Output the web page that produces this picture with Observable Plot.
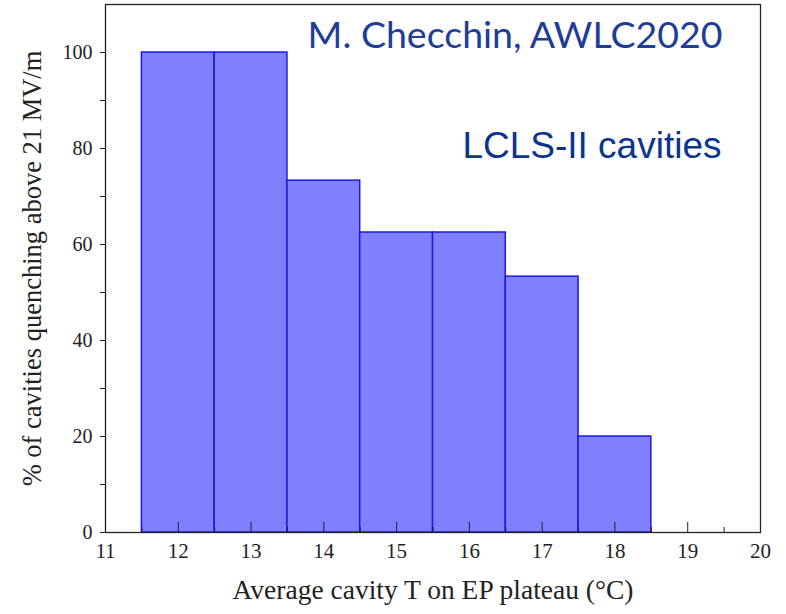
<!DOCTYPE html>
<html><head><meta charset="utf-8">
<script src="https://cdn.jsdelivr.net/npm/d3@7"></script>
<script src="https://cdn.jsdelivr.net/npm/@observablehq/plot@0.6"></script>
<style>body{margin:0;background:#fff;} #chart svg{display:block;}</style>
</head><body><div id="chart"></div>
<script>
const temps = [12, 13, 14, 15, 16, 17, 18];
const percents = [100, 100, 73.3, 62.5, 62.5, 53.3, 20];
const xTicks = [11, 12, 13, 14, 15, 16, 17, 18, 19, 20];
const xMinorTicks = [11.5, 12.5, 13.5, 14.5, 15.5, 16.5, 17.5, 18.5, 19.5];
const yTicks = [0, 20, 40, 60, 80, 100];
const yMinorTicks = [10, 30, 50, 70, 90];
const xTitle = "Average cavity T on EP plateau (°C)";
const yTitle = "% of cavities quenching above 21 MV/m";
const credit = "M. Checchin, AWLC2020";
const subtitle = "LCLS-II cavities";

const bins = temps.map((t, i) => ({x1: t - 0.5, x2: t + 0.5, y: percents[i]}));
const serif = "'Liberation Serif', 'Times New Roman', serif";

const chart = Plot.plot({
  width: 786,
  height: 614,
  marginLeft: 105,
  marginRight: 26,
  marginTop: 4,
  marginBottom: 82,
  style: {fontFamily: serif, background: "#fff", color: "#222"},
  x: {domain: [11, 20]},
  y: {domain: [0, 110]},
  marks: [
    Plot.rectY(bins, {x1: "x1", x2: "x2", y: "y", fill: "#8080ff", stroke: "#1a1ae8", strokeWidth: 1.5}),
    Plot.axisX({ticks: xTicks, tickSize: -10, tickFormat: () => "", label: null, stroke: "#222"}),
    Plot.axisX({ticks: xMinorTicks, tickSize: -5, tickFormat: () => "", label: null, stroke: "#222"}),
    Plot.axisX({ticks: xTicks, tickSize: 0, tickPadding: 11, fontSize: 21, label: null, fill: "#222"}),
    Plot.axisY({ticks: yTicks, tickSize: 5, tickPadding: 8, fontSize: 20, label: null, stroke: "#222", fill: "#222"}),
    Plot.axisY({ticks: yMinorTicks, tickSize: 5, tickFormat: () => "", label: null, stroke: "#222"}),
    Plot.frame({stroke: "#222", strokeWidth: 1.3}),
    Plot.text([yTitle], {frameAnchor: "left", textAnchor: "middle", rotate: -90, dx: -73, dy: 0, fontSize: 26.5, fontFamily: serif, fill: "#222"}),
    Plot.text([xTitle], {frameAnchor: "bottom", dy: 66, fontSize: 27.5, fontFamily: serif, fill: "#222"}),
    Plot.text([credit], {frameAnchor: "top-right", dx: -38, dy: 17, textAnchor: "end", lineAnchor: "top", fontSize: 37.5, fontFamily: "Lato, 'Open Sans', sans-serif", fill: "#1f3d96"}),
    Plot.text([subtitle], {frameAnchor: "top-right", dx: -39, dy: 127, textAnchor: "end", lineAnchor: "top", fontSize: 37, fontFamily: "'Liberation Sans', Arial, sans-serif", fill: "#0b3391"})
  ]
});
document.getElementById("chart").appendChild(chart);
</script>
</body></html>
